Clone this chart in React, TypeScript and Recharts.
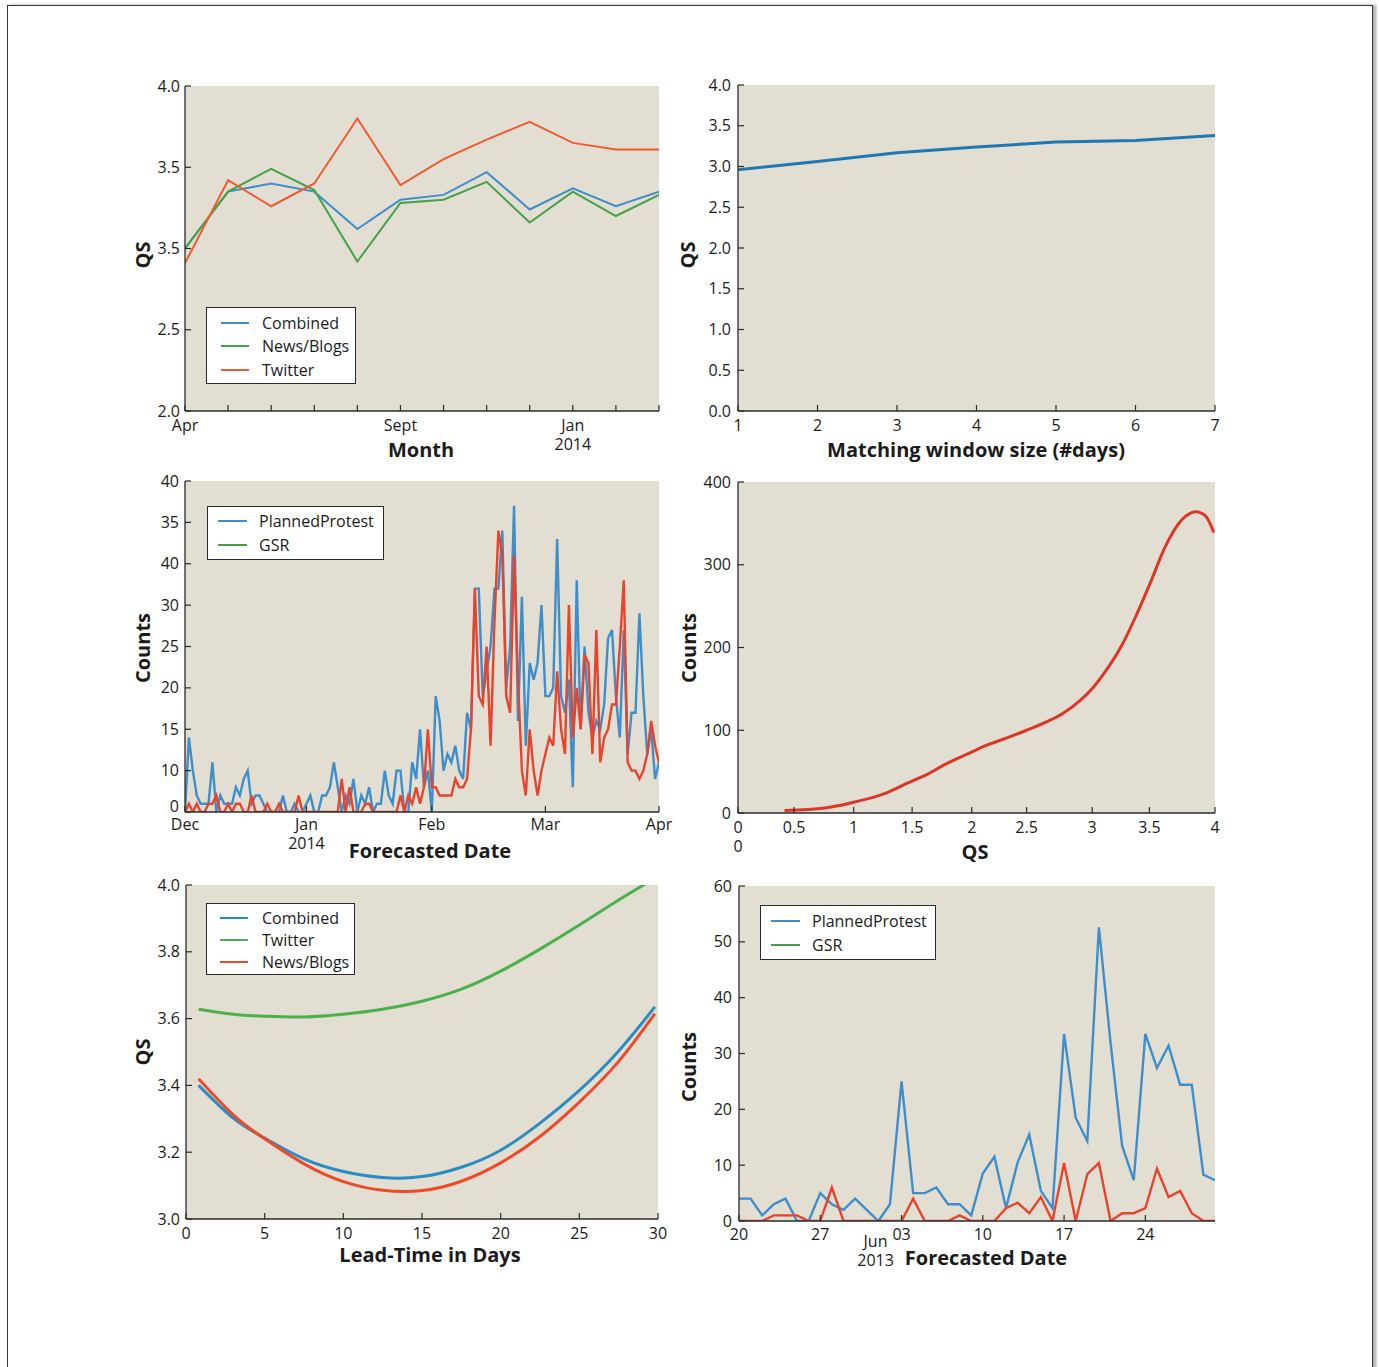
import React from 'react';
import { LineChart, Line, XAxis, YAxis, CartesianGrid } from 'recharts';

const FONT = '"Open Sans", "Noto Sans", Arial, sans-serif';
const INK = '#1b1b1b';
const FRAME = '#2a2a2a';
const PLOT_BG = '#e3ded2';
const TICK = 6;

// top left: QS per month
const monthIndex = [0, 1, 2, 3, 4, 5, 6, 7, 8, 9, 10, 11];
const monthLabels = ['Apr', '', '', '', '', 'Sept', '', '', '', 'Jan\n2014', '', ''];
const combinedByMonth = [3.0, 3.35, 3.4, 3.35, 3.12, 3.3, 3.33, 3.47, 3.24, 3.37, 3.26, 3.35];
const newsByMonth = [3.0, 3.35, 3.49, 3.36, 2.92, 3.28, 3.3, 3.41, 3.16, 3.35, 3.2, 3.33];
const twitterByMonth = [2.91, 3.42, 3.26, 3.4, 3.8, 3.39, 3.55, 3.67, 3.78, 3.65, 3.61, 3.61];
const qsTicksMonth = [2, 2.5, 3, 3.5, 4];
const qsLabelsMonth = ['2.0', '2.5', '3.5', '3.5', '4.0'];

// top right: QS per matching window
const windowSizes = [1, 2, 3, 4, 5, 6, 7];
const qsByWindow = [2.96, 3.06, 3.17, 3.24, 3.3, 3.32, 3.38];
const qsTicksWindow = [0, 0.5, 1, 1.5, 2, 2.5, 3, 3.5, 4];
const qsLabelsWindow = ['0.0', '0.5', '1.0', '1.5', '2.0', '2.5', '3.0', '3.5', '4.0'];

// middle left: daily counts Dec 2013 - Apr 2014
const dayTicks = [0, 31, 63, 92, 121];
const dayTickLabels = ['Dec', 'Jan\n2014', 'Feb', 'Mar', 'Apr'];
const plannedProtest = [
  0, 9, 5, 2, 1, 1, 1, 6, 0, 2,
  1, 1, 1, 3, 2, 4, 5, 1, 2, 2,
  1, 0, 0, 0, 0, 2, 0, 0, 1, 0,
  0, 1, 2, 0, 0, 2, 2, 3, 6, 3,
  0, 2, 1, 4, 0, 2, 1, 3, 0, 1,
  1, 5, 2, 1, 5, 5, 0, 0, 6, 4,
  10, 3, 5, 0, 14, 11, 5, 7, 6, 8,
  5, 4, 12, 10, 27, 27, 14, 17, 20, 27,
  27, 34, 15, 20, 37, 11, 26, 8, 18, 16,
  18, 25, 14, 14, 15, 33, 14, 12, 16, 3,
  28, 10, 20, 12, 9, 11, 10, 13, 21, 22,
  14, 9, 22, 7, 12, 12, 24, 14, 7, 10,
  4, 6,
];
const gsrDaily = [
  0, 1, 0, 1, 0, 0, 1, 1, 2, 0,
  0, 1, 0, 1, 1, 0, 0, 2, 0, 0,
  0, 1, 0, 0, 1, 0, 0, 0, 0, 2,
  0, 0, 0, 0, 0, 0, 0, 0, 0, 0,
  4, 0, 3, 0, 0, 0, 1, 1, 0, 0,
  0, 0, 0, 0, 0, 2, 0, 2, 1, 3,
  1, 3, 10, 3, 3, 2, 2, 2, 2, 4,
  3, 3, 4, 10, 27, 14, 13, 20, 8, 23,
  34, 31, 14, 12, 31, 16, 5, 2, 10, 5,
  2, 5, 7, 9, 8, 17, 10, 7, 25, 9,
  15, 10, 19, 18, 7, 22, 6, 9, 10, 13,
  13, 20, 28, 6, 5, 5, 4, 5, 7, 11,
  8, 6,
];
const countTicks40 = [0, 5, 10, 15, 20, 25, 30, 35, 40];
const countLabels40 = ['0', '10', '15', '20', '25', '30', '40', '35', '40'];

// middle right: counts per QS
const qsGrid = [0.39, 0.73, 0.85, 0.97, 1.24, 1.42, 1.59, 1.74, 1.95, 2.07, 2.24, 2.42, 2.6, 2.72, 2.87, 2.98, 3.1, 3.22, 3.34, 3.46, 3.58, 3.72, 3.84, 3.92, 3.99];
const countsByQS = [3, 6, 9, 13, 24, 36, 47, 59, 73, 81, 90, 100, 111, 120, 136, 152, 175, 203, 239, 279, 321, 354, 364, 359, 339];
const qsAxisTicks = [0, 0.47, 0.97, 1.46, 1.96, 2.42, 2.97, 3.45, 4];
const qsAxisLabels = ['0\n0', '0.5', '1', '1.5', '2', '2.5', '3', '3.5', '4'];
const countTicks400 = [0, 100, 200, 300, 400];
const countLabels400 = ['0', '100', '200', '300', '400'];

// bottom left: QS by lead time
const leadDays = [0.8, 3, 5, 7.5, 10, 12.5, 15, 17.5, 20, 22.5, 25, 27.5, 29.8];
const leadCombined = [3.4, 3.302, 3.242, 3.18, 3.142, 3.124, 3.127, 3.155, 3.206, 3.287, 3.385, 3.503, 3.635];
const leadTwitter = [3.628, 3.613, 3.607, 3.605, 3.613, 3.628, 3.652, 3.688, 3.742, 3.808, 3.88, 3.955, 4.02];
const leadNews = [3.42, 3.312, 3.24, 3.165, 3.112, 3.086, 3.085, 3.113, 3.168, 3.247, 3.35, 3.472, 3.615];
const leadTicks = [0, 5, 10, 15, 20, 25, 30];
const leadLabels = ['0', '5', '10', '15', '20', '25', '30'];
const qsTicksLead = [3, 3.2, 3.4, 3.6, 3.8, 4];
const qsLabelsLead = ['3.0', '3.2', '3.4', '3.6', '3.8', '4.0'];

// bottom right: daily counts May 20 - Jun 30 2013
const juneTicks = [0, 7, 14, 21, 28, 35];
const juneTickLabels = ['20', '27', '03', '10', '17', '24'];
const juneMonthMark = ['Jun', '2013'];
const juneProtest = [4, 4, 1, 3, 4, 0, 0, 5, 3, 2, 4, 2, 0, 3, 25, 5, 5, 6, 3, 3, 1, 8.5, 11.5, 2.3, 10.5, 15.5, 5.4, 2.3, 33.5, 18.5, 14.3, 52.6, 32, 13.5, 7.3, 33.5, 27.4, 31.4, 24.4, 24.4, 8.3, 7.3];
const juneGsr = [0, 0, 0, 1, 1, 1, 0, 0, 6, 0, 0, 0, 0, 0, 0, 4, 0, 0, 0, 1, 0, 0, 0, 2.3, 3.3, 1.4, 4.3, 0, 10.4, 0, 8.4, 10.4, 0, 1.4, 1.4, 2.3, 9.4, 4.3, 5.4, 1.4, 0, 0];
const countTicks60 = [0, 10, 20, 30, 40, 50, 60];
const countLabels60 = ['0', '10', '20', '30', '40', '50', '60'];

const monthData = monthIndex.map((i) => ({ i, combined: combinedByMonth[i], news: newsByMonth[i], twitter: twitterByMonth[i] }));
const windowData = windowSizes.map((w, k) => ({ w, qs: qsByWindow[k] }));
const dailyData = plannedProtest.map((v, d) => ({ d, planned: v, gsr: gsrDaily[d] }));
const qsData = qsGrid.map((q, k) => ({ q, count: countsByQS[k] }));
const leadData = leadDays.map((t, k) => ({ t, combined: leadCombined[k], twitter: leadTwitter[k], news: leadNews[k] }));
const juneData = juneProtest.map((v, d) => ({ d, planned: v, gsr: juneGsr[d] }));

const txt = { fontSize: 16, fontFamily: FONT, fill: INK };

const bottomTick = (labels: string[], dy: number, mark?: { index: number; rows: string[]; dx: number }) =>
  (p: any) => {
    const rows = String(labels[p.index] ?? '').split('\n');
    return (
      <g>
        <line x1={p.x} x2={p.x} y1={p.y} y2={p.y - TICK} stroke={FRAME} strokeWidth={1.2} />
        {rows.map((r, k) => (
          <text key={k} x={p.x} y={p.y + dy + k * 19} textAnchor="middle" {...txt}>{r}</text>
        ))}
        {mark && mark.index === p.index &&
          mark.rows.map((r, k) => (
            <text key={'m' + k} x={p.x + mark.dx} y={p.y + dy + 7 + k * 19} textAnchor="middle" {...txt}>{r}</text>
          ))}
      </g>
    );
  };

// raise lifts the lowest label a little, as the source figure does
const leftTick = (labels: string[], gap: number, raise = 0) => (p: any) => (
  <g>
    <line x1={p.x} x2={p.x + TICK} y1={p.y} y2={p.y} stroke={FRAME} strokeWidth={1.2} />
    <text x={p.x - gap} y={p.y + 5.5 - (p.index === 0 ? raise : 0)} textAnchor="end" {...txt}>{labels[p.index]}</text>
  </g>
);

const topTick = (p: any) => <line x1={p.x} x2={p.x} y1={p.y} y2={p.y + TICK} stroke={FRAME} strokeWidth={1.2} />;
const rightTick = (p: any) => <line x1={p.x} x2={p.x - TICK} y1={p.y} y2={p.y} stroke={FRAME} strokeWidth={1.2} />;

const axisLine = { stroke: FRAME, strokeWidth: 1.3 };

function Panel(props: {
  plot: [number, number, number, number];
  data: any[];
  xKey: string;
  xDomain: [number, number];
  xTicks: number[];
  xTick: any;
  yDomain: [number, number];
  yTicks: number[];
  yTick: any;
  children: React.ReactNode;
}) {
  const [px, py, pw, ph] = props.plot;
  const padL = 80, padR = 26, padT = 10, padB = 64;
  return (
    <div style={{ position: 'absolute', left: px - padL, top: py - padT }}>
      <LineChart width={pw + padL + padR} height={ph + padT + padB} data={props.data} margin={{ top: padT, right: padR, bottom: 0, left: 0 }}>
        <CartesianGrid fill={PLOT_BG} stroke="none" />
        <XAxis dataKey={props.xKey} type="number" domain={props.xDomain} ticks={props.xTicks} interval={0} allowDataOverflow
          height={padB} tickSize={0} tickMargin={0} tickLine={false} tick={props.xTick} axisLine={axisLine} />
        <XAxis xAxisId="top" orientation="top" dataKey={props.xKey} type="number" domain={props.xDomain} ticks={props.xTicks} interval={0} allowDataOverflow
          height={0} tickSize={0} tickMargin={0} tickLine={false} tick={topTick} axisLine={axisLine} />
        <YAxis type="number" domain={props.yDomain} ticks={props.yTicks} interval={0} allowDataOverflow
          width={padL} tickSize={0} tickMargin={0} tickLine={false} tick={props.yTick} axisLine={axisLine} />
        <YAxis yAxisId="right" orientation="right" type="number" domain={props.yDomain} ticks={props.yTicks} interval={0} allowDataOverflow
          width={0} tickSize={0} tickMargin={0} tickLine={false} tick={rightTick} axisLine={axisLine} />
        {props.children}
      </LineChart>
    </div>
  );
}

function Title({ x, y, rotate, children }: { x: number; y: number; rotate?: boolean; children: React.ReactNode }) {
  return (
    <div style={{
      position: 'absolute', left: x, top: y, transform: `translate(-50%, -50%)${rotate ? ' rotate(-90deg)' : ''}`,
      fontFamily: FONT, fontWeight: 700, fontSize: 20, color: INK, whiteSpace: 'nowrap', lineHeight: 1,
    }}>{children}</div>
  );
}

function LegendBox({ left, top, width, height, rows, lineX, lineW, textX, items }: {
  left: number; top: number; width: number; height: number; rows: number[]; lineX: number; lineW: number; textX: number;
  items: { label: string; color: string }[];
}) {
  return (
    <div style={{ position: 'absolute', left, top, width, height, background: '#fff', border: `1.3px solid ${FRAME}`, boxSizing: 'border-box' }}>
      {items.map((it, k) => (
        <React.Fragment key={it.label}>
          <div style={{ position: 'absolute', left: lineX, top: rows[k] - 1, width: lineW, height: 2.4, background: it.color }} />
          <div style={{ position: 'absolute', left: textX, top: rows[k], transform: 'translateY(-50%)', fontFamily: FONT, fontSize: 16, color: INK, whiteSpace: 'nowrap', lineHeight: 1 }}>{it.label}</div>
        </React.Fragment>
      ))}
    </div>
  );
}

const BLUE = '#3d8ecb';
const GREEN = '#45a145';
const ORANGE = '#ef5b30';
const RED = '#e8442d';

export default function App() {
  return (
    <div style={{ position: 'absolute', left: 0, top: 0, width: 1379, height: 1367, background: '#fff', overflow: 'hidden' }}>
      <div style={{ position: 'absolute', left: 7, top: 5, width: 1366, height: 1400, border: '1px solid #3a3a3a', boxSizing: 'border-box', boxShadow: '3px 0 3px rgba(0,0,0,0.35)' }} />

      <Panel plot={[185, 86, 474, 325]} data={monthData} xKey="i" xDomain={[0, 11]} xTicks={monthIndex}
        xTick={bottomTick(monthLabels, 20)} yDomain={[2, 4]} yTicks={qsTicksMonth} yTick={leftTick(qsLabelsMonth, 5)}>
        <Line dataKey="combined" stroke={BLUE} strokeWidth={2} dot={false} isAnimationActive={false} />
        <Line dataKey="news" stroke={GREEN} strokeWidth={2} dot={false} isAnimationActive={false} />
        <Line dataKey="twitter" stroke={ORANGE} strokeWidth={2} dot={false} isAnimationActive={false} />
      </Panel>

      <Panel plot={[738, 85, 477, 326]} data={windowData} xKey="w" xDomain={[1, 7]} xTicks={windowSizes}
        xTick={bottomTick(windowSizes.map(String), 20)} yDomain={[0, 4]} yTicks={qsTicksWindow} yTick={leftTick(qsLabelsWindow, 7)}>
        <Line dataKey="qs" stroke="#1f78b4" strokeWidth={3} dot={false} isAnimationActive={false} />
      </Panel>

      <Panel plot={[185, 481, 474, 331]} data={dailyData} xKey="d" xDomain={[0, 121]} xTicks={dayTicks}
        xTick={bottomTick(dayTickLabels, 18)} yDomain={[0, 40]} yTicks={countTicks40} yTick={leftTick(countLabels40, 6, 6)}>
        <Line dataKey="planned" stroke={BLUE} strokeWidth={2.4} dot={false} isAnimationActive={false} />
        <Line dataKey="gsr" stroke={RED} strokeWidth={2.4} dot={false} isAnimationActive={false} />
      </Panel>

      <Panel plot={[738, 482, 477, 331]} data={qsData} xKey="q" xDomain={[0, 4]} xTicks={qsAxisTicks}
        xTick={bottomTick(qsAxisLabels, 20)} yDomain={[0, 400]} yTicks={countTicks400} yTick={leftTick(countLabels400, 7)}>
        <Line type="monotone" dataKey="count" stroke="#dd3526" strokeWidth={3} dot={false} isAnimationActive={false} />
      </Panel>

      <Panel plot={[186, 885, 472, 334]} data={leadData} xKey="t" xDomain={[0, 30]} xTicks={leadTicks}
        xTick={bottomTick(leadLabels, 20)} yDomain={[3, 4]} yTicks={qsTicksLead} yTick={leftTick(qsLabelsLead, 6)}>
        <Line type="natural" dataKey="combined" stroke="#2a8cc0" strokeWidth={3} dot={false} isAnimationActive={false} />
        <Line type="natural" dataKey="twitter" stroke="#4cb04c" strokeWidth={3} dot={false} isAnimationActive={false} />
        <Line type="natural" dataKey="news" stroke="#ee4a2a" strokeWidth={3} dot={false} isAnimationActive={false} />
      </Panel>

      <Panel plot={[739, 886, 476, 335]} data={juneData} xKey="d" xDomain={[0, 41]} xTicks={juneTicks}
        xTick={bottomTick(juneTickLabels, 19, { index: 2, rows: juneMonthMark, dx: -26 })}
        yDomain={[0, 60]} yTicks={countTicks60} yTick={leftTick(countLabels60, 7)}>
        <Line dataKey="planned" stroke={BLUE} strokeWidth={2.4} dot={false} isAnimationActive={false} />
        <Line dataKey="gsr" stroke={RED} strokeWidth={2.4} dot={false} isAnimationActive={false} />
      </Panel>

      <LegendBox left={206} top={307} width={150} height={77} rows={[15, 38, 62]} lineX={14} lineW={28} textX={55}
        items={[{ label: 'Combined', color: BLUE }, { label: 'News/Blogs', color: GREEN }, { label: 'Twitter', color: ORANGE }]} />
      <LegendBox left={207} top={506} width={177} height={54} rows={[14, 38]} lineX={10} lineW={29} textX={51}
        items={[{ label: 'PlannedProtest', color: BLUE }, { label: 'GSR', color: GREEN }]} />
      <LegendBox left={206} top={903} width={149} height={72} rows={[14, 36, 58]} lineX={13} lineW={28} textX={55}
        items={[{ label: 'Combined', color: '#2a8cc0' }, { label: 'Twitter', color: '#4cb04c' }, { label: 'News/Blogs', color: '#ee4a2a' }]} />
      <LegendBox left={760} top={905} width={176} height={55} rows={[15, 39]} lineX={10} lineW={29} textX={51}
        items={[{ label: 'PlannedProtest', color: BLUE }, { label: 'GSR', color: GREEN }]} />

      <Title x={143} y={255} rotate>QS</Title>
      <Title x={421} y={450}>Month</Title>
      <Title x={688} y={255} rotate>QS</Title>
      <Title x={976} y={450}>Matching window size (#days)</Title>
      <Title x={143} y={648} rotate>Counts</Title>
      <Title x={430} y={851}>Forecasted Date</Title>
      <Title x={689} y={648} rotate>Counts</Title>
      <Title x={975} y={852}>QS</Title>
      <Title x={143} y={1052} rotate>QS</Title>
      <Title x={430} y={1255}>Lead-Time in Days</Title>
      <Title x={689} y={1067} rotate>Counts</Title>
      <Title x={986} y={1258}>Forecasted Date</Title>
    </div>
  );
}
